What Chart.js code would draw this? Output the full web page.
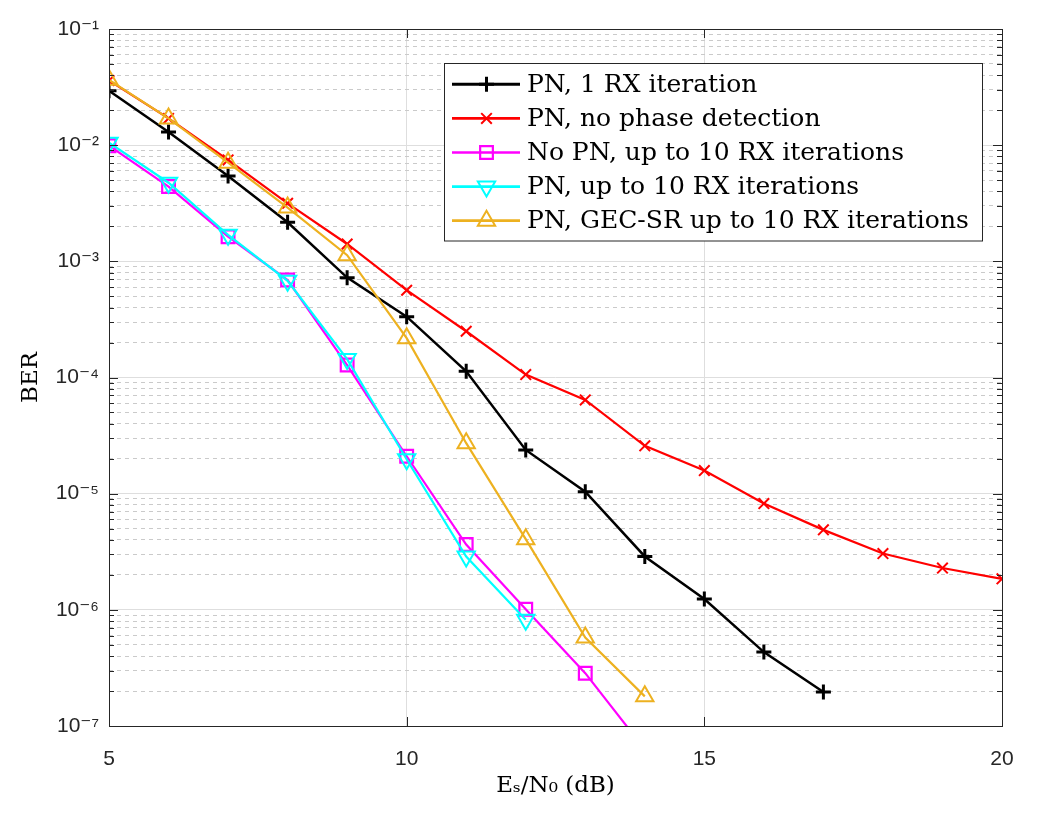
<!DOCTYPE html>
<html><head><meta charset="utf-8">
<script src="https://cdn.jsdelivr.net/npm/chart.js@4.4.1/dist/chart.umd.min.js"></script>
<style>html,body{margin:0;padding:0;background:#fff}#wrap{width:1042px;height:819px;position:relative}</style>
</head><body><div id="wrap"><canvas id="c" width="1042" height="819"></canvas></div>
<script>
// ---- data ----
const snrDb = [5,6,7,8,9,10,11,12,13,14,15,16,17,18,19,20];
const seriesLabels = [
  'PN, 1 RX iteration',
  'PN, no phase detection',
  'No PN, up to 10 RX iterations',
  'PN, up to 10 RX iterations',
  'PN, GEC-SR up to 10 RX iterations'
];
const berPn1Rx = [2.94e-2,1.30e-2,5.43e-3,2.17e-3,7.24e-4,3.34e-4,1.13e-4,2.38e-5,1.04e-5,2.88e-6,1.24e-6,4.33e-7,1.96e-7];
const berPnNoPhase = [3.6e-2,1.70e-2,7.46e-3,3.16e-3,1.41e-3,5.64e-4,2.50e-4,1.06e-4,6.41e-5,2.58e-5,1.58e-5,8.22e-6,4.88e-6,3.05e-6,2.29e-6,1.85e-6];
const berNoPn10Rx = [9.9e-3,4.4e-3,1.63e-3,6.9e-4,1.28e-4,2.1e-5,3.65e-6,1.01e-6,2.85e-7,6.3e-8];
const berPn10Rx = [1.05e-2,4.75e-3,1.69e-3,6.8e-4,1.44e-4,1.98e-5,2.88e-6,8.2e-7];
const berGecSr = [3.65e-2,1.70e-2,7.07e-3,2.9e-3,1.13e-3,2.18e-4,2.72e-5,4.06e-6,5.78e-7,1.8e-7];

const xTickValues = [5,10,15,20];
const yMajorValues = [1e-7,1e-6,1e-5,1e-4,1e-3,1e-2,1e-1];
const yTickLabels = ['10\u207B\u2077','10\u207B\u2076','10\u207B\u2075','10\u207B\u2074','10\u207B\u00B3','10\u207B\u00B2','10\u207B\u00B9'];
const yMinorMultipliers = [2,3,4,5,6,7,8,9];

// ---- build helpers ----
const yTickValues = [];
yMajorValues.forEach((m, i) => {
  yTickValues.push(m);
  if (i < yMajorValues.length - 1) yMinorMultipliers.forEach(k => yTickValues.push(parseFloat((k * m).toPrecision(6))));
});
const isMajorY = v => yMajorValues.includes(v);
const toPoints = arr => arr.map((v, i) => ({x: snrDb[i], y: v}));

const styles = [
  {color:'#000000', pointStyle:'cross', radius:7.5, pbw:3, lw:2.5, rot:0},
  {color:'#FF0000', pointStyle:'crossRot', radius:7.5, pbw:2, lw:2.2, rot:0},
  {color:'#FF00FF', pointStyle:'rect', radius:9, pbw:2.2, lw:2.2, rot:0},
  {color:'#00FFFF', pointStyle:'triangle', radius:10, pbw:2, lw:2.2, rot:180},
  {color:'#EDB120', pointStyle:'triangle', radius:10, pbw:2, lw:2.2, rot:0}
];
const seriesData = [berPn1Rx, berPnNoPhase, berNoPn10Rx, berPn10Rx, berGecSr];

const datasets = seriesData.map((arr, i) => ({
  label: seriesLabels[i],
  data: toPoints(arr),
  borderColor: styles[i].color,
  borderWidth: styles[i].lw,
  pointStyle: styles[i].pointStyle,
  pointRadius: styles[i].radius,
  pointRotation: styles[i].rot,
  pointBorderWidth: styles[i].pbw,
  pointBorderColor: styles[i].color,
  pointBackgroundColor: 'rgba(0,0,0,0)',
  tension: 0,
  fill: false,
  order: 10 - i
}));

const AX = '#262626';

const framePlugin = {
  id: 'frame',
  afterDatasetsDraw(chart) {
    const ctx = chart.ctx, a = chart.chartArea;
    const ys = chart.scales.y, xs = chart.scales.x;
    ctx.save();
    ctx.strokeStyle = AX; ctx.lineWidth = 1;
    ctx.beginPath();
    yTickValues.forEach(v => {
      const p = Math.round(ys.getPixelForValue(v)) + 0.5;
      const len = isMajorY(v) ? 9 : 5;
      ctx.moveTo(a.left, p); ctx.lineTo(a.left + len, p);
      ctx.moveTo(a.right, p); ctx.lineTo(a.right - len, p);
    });
    xTickValues.forEach(v => {
      const p = Math.round(xs.getPixelForValue(v)) + 0.5;
      ctx.moveTo(p, a.bottom); ctx.lineTo(p, a.bottom - 9);
      ctx.moveTo(p, a.top); ctx.lineTo(p, a.top + 9);
    });
    ctx.stroke();
    ctx.strokeRect(Math.round(a.left) + 0.5, Math.round(a.top) + 0.5, Math.round(a.right - a.left), Math.round(a.bottom - a.top));
    ctx.restore();
  }
};

const legendPlugin = {
  id: 'boxLegend',
  afterDraw(chart) {
    const ctx = chart.ctx;
    const bx = 444.5, by = 63.5, bw = 538, bh = 177.5;
    ctx.save();
    ctx.fillStyle = '#ffffff';
    ctx.fillRect(bx, by, bw, bh);
    ctx.strokeStyle = AX; ctx.lineWidth = 1;
    ctx.strokeRect(bx, by, bw, bh);
    chart.data.datasets.forEach((ds, i) => {
      const cy = 84.3 + i * 34.1;
      ctx.strokeStyle = ds.borderColor;
      ctx.lineWidth = ds.borderWidth + 0.5;
      ctx.beginPath(); ctx.moveTo(452, cy); ctx.lineTo(520, cy); ctx.stroke();
      ctx.lineWidth = ds.pointBorderWidth;
      ctx.fillStyle = 'rgba(0,0,0,0)';
      Chart.helpers.drawPoint(ctx, {pointStyle: ds.pointStyle, radius: ds.pointRadius, rotation: ds.pointRotation, borderWidth: ds.pointBorderWidth}, 486.5, cy);
      ctx.fillStyle = '#000';
      ctx.font = '25px "DejaVu Serif"';
      ctx.textBaseline = 'middle';
      ctx.textAlign = 'left';
      ctx.fillText(ds.label, 527, cy + 1);
    });
    ctx.restore();
  }
};

new Chart(document.getElementById('c'), {
  type: 'line',
  data: { datasets },
  options: {
    responsive: false,
    animation: false,
    events: [],
    layout: { padding: { left: 0, right: 40, top: 29, bottom: 0 } },
    plugins: { legend: { display: false }, tooltip: { enabled: false } },
    scales: {
      x: {
        type: 'linear', min: 5, max: 20,
        afterBuildTicks: s => { s.ticks = xTickValues.map(v => ({value: v})); },
        afterFit: s => { s.height = 93; },
        grid: { color: '#dedede', lineWidth: 1, drawTicks: false },
        border: { display: false },
        ticks: { autoSkip: false, maxRotation: 0, padding: 21, color: AX, font: { family: '"Liberation Sans", Arial, sans-serif', size: 21 } },
        title: { display: true, text: 'E\u209B/N\u2080 (dB)', color: '#000', font: { family: '"DejaVu Serif", serif', size: 23 }, padding: { top: 0, bottom: 19 } }
      },
      y: {
        type: 'logarithmic', min: 1e-7, max: 1e-1,
        afterBuildTicks: s => { s.ticks = yTickValues.map(v => ({value: v, major: isMajorY(v)})); },
        afterFit: s => { s.width = 109; },
        grid: { color: c => (c.tick && !isMajorY(c.tick.value)) ? '#cacaca' : '#dedede', lineWidth: 1, drawTicks: false },
        border: { display: false, dash: c => (c.tick && !isMajorY(c.tick.value)) ? [4, 4] : [] },
        ticks: {
          autoSkip: false, padding: 10, color: AX,
          font: { family: '"Liberation Sans", Arial, "DejaVu Sans", sans-serif', size: 21 },
          callback: v => { const i = yMajorValues.indexOf(v); return i >= 0 ? yTickLabels[i] : ''; }
        },
        title: { display: true, text: 'BER', color: '#000', font: { family: '"DejaVu Serif", serif', size: 23 }, padding: { top: 17, bottom: 0 } }
      }
    }
  },
  plugins: [framePlugin, legendPlugin]
});
</script></body></html>
